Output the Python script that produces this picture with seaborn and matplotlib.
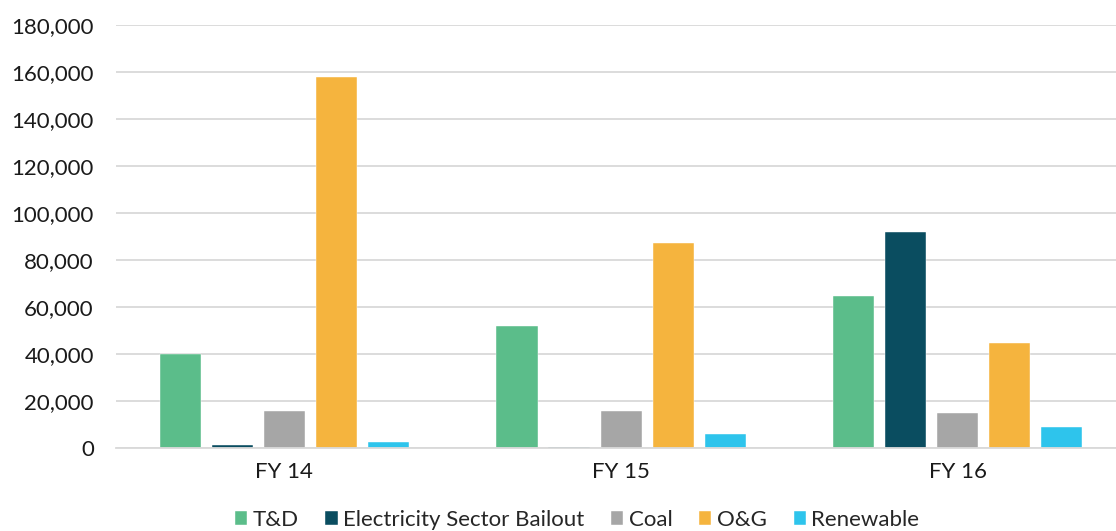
import numpy as np
import pandas as pd
import matplotlib.pyplot as plt
import seaborn as sns
from matplotlib.ticker import FuncFormatter

years = ["FY 14", "FY 15", "FY 16"]
sectors = ["T&D", "Electricity Sector Bailout", "Coal", "O&G", "Renewable"]
td = [40000, 52000, 64800]
bailout = [1150, 400, 92000]
coal = [15700, 15800, 14850]
oag = [157700, 87400, 44500]
renewable = [2400, 6000, 9100]
colors = ["#5BBD8A", "#0A4D60", "#A6A6A6", "#F5B43E", "#2EC4EC"]

sns.set_style("white")
plt.rcParams['font.family'] = ['Lato', 'DejaVu Sans']

rows = []
for s, vals in zip(sectors, [td, bailout, coal, oag, renewable]):
	for y, v in zip(years, vals):
		rows.append({"year": y, "sector": s, "value": v})
df = pd.DataFrame(rows)

fig = plt.figure(figsize=(11.16, 5.31), dpi=100)
ax = fig.add_axes([0.104, 0.1563, 0.896, 0.797])
sns.barplot(data=df, x="year", y="value", hue="sector", hue_order=sectors,
	palette=colors, saturation=1, width=0.773, gap=0.21, ax=ax,
	edgecolor="white", linewidth=0.3)

ax.set_ylim(0, 180000)
ax.set_xlim(-0.5, 2.47)
ax.set_yticks(np.arange(0, 180001, 20000))
ax.yaxis.set_major_formatter(FuncFormatter(lambda v, p: f"{int(v):,}"))
ax.grid(axis="y", color="#D9D9D9", linewidth=1.3)
ax.set_axisbelow(True)
for side in ["top", "right", "left"]:
	ax.spines[side].set_visible(False)
ax.spines["bottom"].set_color("#D9D9D9")
ax.spines["bottom"].set_linewidth(1.3)
ax.tick_params(axis="both", length=0, labelsize=16, colors="#1a1a1a")
ax.tick_params(axis="y", pad=16)
ax.tick_params(axis="x", pad=10)
ax.set_xlabel("")
ax.set_ylabel("")

ax.legend(loc="center", bbox_to_anchor=(0.461, -0.17), ncol=5, frameon=False,
	fontsize=16, handlelength=0.55, handleheight=0.55, handletextpad=0.25, columnspacing=1.2,
	borderaxespad=0, borderpad=0)

plt.savefig("out.png", dpi=100)
